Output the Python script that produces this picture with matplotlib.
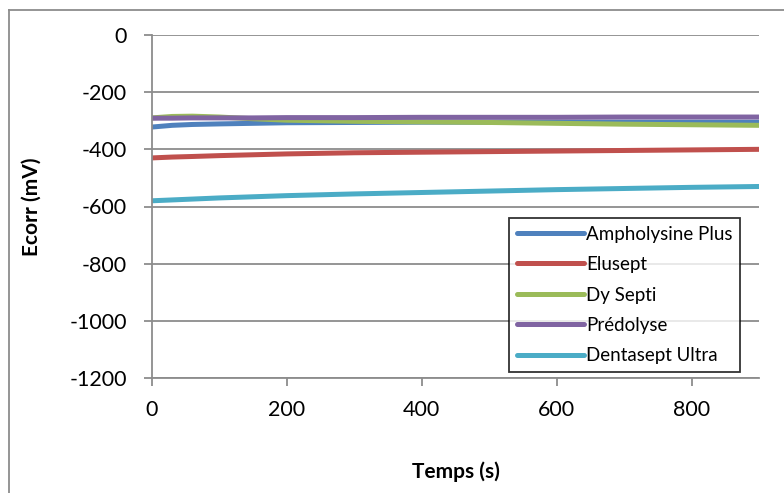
import numpy as np
import matplotlib
matplotlib.use("Agg")
import matplotlib.pyplot as plt
from matplotlib.lines import Line2D

plt.rcParams['font.family'] = ['Lato', 'DejaVu Sans']
plt.rcParams['axes.unicode_minus'] = False

# time points (s)
temps = [0, 30, 60, 100, 150, 200, 300, 400, 500, 600, 700, 800, 900]

# Ecorr (mV) per product
ampholysine = [-322, -316, -313, -311, -309, -307, -306, -305, -305, -305, -305, -305, -305]
elusept = [-430, -427, -425, -422, -419, -416, -412, -410, -408, -406, -404, -402, -400]
dy_septi = [-290, -285, -284, -287, -293, -298, -302, -304, -306, -309, -312, -314, -316]
predolyse = [-291, -291, -290, -290, -290, -289, -289, -288, -288, -288, -287, -287, -287]
dentasept = [-580, -577, -574, -570, -566, -562, -556, -551, -546, -541, -537, -533, -530]

series = [
    ("Ampholysine Plus", ampholysine, "#4F81BD"),
    ("Elusept", elusept, "#C0504D"),
    ("Dy Septi", dy_septi, "#9BBB59"),
    ("Prédolyse", predolyse, "#8064A2"),
    ("Dentasept Ultra", dentasept, "#4BACC6"),
]

W, H = 784, 493
fig = plt.figure(figsize=(W / 100, H / 100), dpi=100)
ax = fig.add_axes([152 / W, 1 - 378 / H, (759 - 152) / W, (378 - 35) / H])

for name, vals, col in series:
    ax.plot(temps, vals, color=col, lw=3.6, label=name, solid_capstyle="round")

ax.set_xlim(0, 900)
ax.set_ylim(-1200, 0)
ax.set_xticks(np.arange(0, 801, 200))
ax.set_yticks(np.arange(-1200, 1, 200))
ax.yaxis.grid(True, color="#8c8c8c", lw=1.3)
ax.set_axisbelow(True)
for s in ["top", "right"]:
    ax.spines[s].set_visible(False)
for s in ["left", "bottom"]:
    ax.spines[s].set_color("#8c8c8c")
    ax.spines[s].set_linewidth(1.3)
ax.tick_params(axis="both", colors="#8c8c8c", length=6, width=1.3, labelsize=15.5, labelcolor="black")
ax.tick_params(axis="x", pad=10)
ax.tick_params(axis="y", pad=12)

ax.set_xlabel("Temps (s)", fontsize=15, fontweight="bold", labelpad=30)
ax.set_ylabel("Ecorr (mV)", fontsize=15, fontweight="bold", labelpad=20)

leg = ax.legend(loc="lower right", bbox_to_anchor=(740 / W, 1 - 372 / H), bbox_transform=fig.transFigure,
                fontsize=13.5, frameon=True, fancybox=False, handlelength=3.6, handletextpad=0.1,
                labelspacing=0.72, borderpad=0.4, borderaxespad=0)
leg.get_frame().set_edgecolor("black")
leg.get_frame().set_linewidth(1.3)

# outer chart border
fig.add_artist(Line2D([9 / W, 9 / W], [0, 1 - 10 / H], color="#8c8c8c", lw=1.3, transform=fig.transFigure))
fig.add_artist(Line2D([9 / W, 1], [1 - 10 / H, 1 - 10 / H], color="#8c8c8c", lw=1.3, transform=fig.transFigure))

fig.savefig("out.png", dpi=100)
